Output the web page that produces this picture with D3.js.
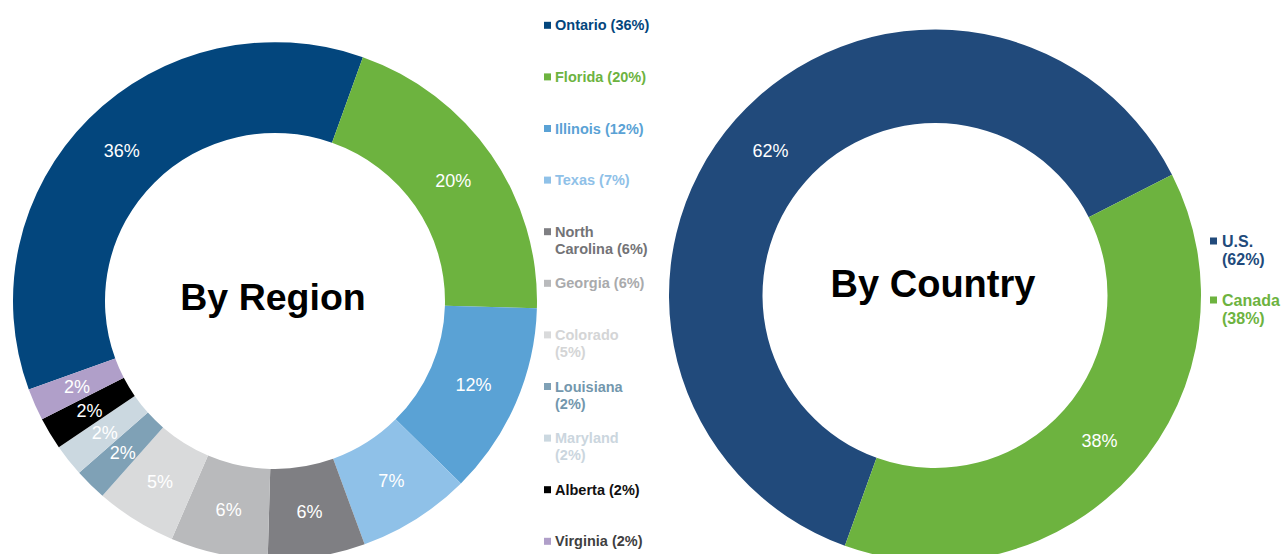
<!DOCTYPE html>
<html>
<head>
<meta charset="utf-8">
<script src="https://cdn.jsdelivr.net/npm/d3@7"></script>
<style>
  html, body { margin: 0; padding: 0; background: #ffffff; }
  svg { display: block; }
  text { font-family: "Liberation Sans", Arial, Helvetica, sans-serif; }
</style>
</head>
<body>
<svg id="chart" width="1286" height="554"></svg>
<script>
// ---- Data ----
const regions = ["Ontario", "Florida", "Illinois", "Texas", "North Carolina", "Georgia",
                 "Colorado", "Louisiana", "Maryland", "Alberta", "Virginia"];
const regionValues = [36, 20, 12, 7, 6, 6, 5, 2, 2, 2, 2];
const regionColors = ["#03467d", "#6db33f", "#5aa2d5", "#8fc1e8", "#7f7f83", "#b9babc",
                      "#d9dadb", "#7fa1b6", "#cbd8e0", "#000000", "#b09fc9"];
const regionTextColors = ["#03467d", "#6db33f", "#5aa2d5", "#8fc1e8", "#737376", "#a9aaac",
                          "#d4d5d6", "#7397ad", "#cbd6de", "#111111", "#3f3f3f"];
const regionLegendLines = [
  ["Ontario (36%)"], ["Florida (20%)"], ["Illinois (12%)"], ["Texas (7%)"],
  ["North", "Carolina (6%)"], ["Georgia (6%)"], ["Colorado", "(5%)"],
  ["Louisiana", "(2%)"], ["Maryland", "(2%)"], ["Alberta (2%)"], ["Virginia (2%)"]
];

const countries = ["U.S.", "Canada"];
const countryValues = [62, 38];
const countryColors = ["#214a7b", "#6db33f"];
const countryTextColors = ["#214a7b", "#6db33f"];
const countryLegendLines = [["U.S.", "(62%)"], ["Canada", "(38%)"]];

const regionTitle = "By Region";
const countryTitle = "By Country";

// ---- Drawing ----
const svg = d3.select("#chart");
svg.append("rect").attr("width", 1286).attr("height", 554).attr("fill", "#ffffff");

function donut(opts) {
  const g = svg.append("g").attr("transform", `translate(${opts.cx},${opts.cy})`);
  const start = opts.startDeg * Math.PI / 180;
  const pie = d3.pie().sort(null).value(d => d).startAngle(start).endAngle(start + 2 * Math.PI);
  const arcs = pie(opts.values);
  const arc = d3.arc().innerRadius(opts.r0).outerRadius(opts.r1);
  const color = d3.scaleOrdinal().domain(opts.names).range(opts.colors);
  const tcolor = d3.scaleOrdinal().domain(opts.names).range(opts.textColors);

  g.append("g").attr("transform", `scale(1,${opts.sy})`)
    .selectAll("path.slice").data(arcs).enter().append("path")
    .attr("class", "slice")
    .attr("d", arc)
    .attr("fill", (d, i) => color(opts.names[i]));

  g.selectAll("text.lbl").data(arcs).enter().append("text")
    .attr("class", "lbl")
    .attr("transform", d => { const c = arc.centroid(d); return `translate(${c[0]},${c[1] * opts.sy})`; })
    .attr("text-anchor", "middle")
    .attr("dy", "0.35em")
    .attr("fill", "#ffffff")
    .attr("font-size", opts.labelSize)
    .text(d => d.value + "%");

  g.append("text")
    .attr("x", opts.titleDx).attr("y", opts.titleDy)
    .attr("text-anchor", "middle")
    .attr("font-weight", "bold")
    .attr("font-size", opts.titleSize)
    .attr("fill", "#000000")
    .text(opts.title);

  // legend
  const lg = svg.append("g");
  opts.legend.forEach((lines, i) => {
    const y = opts.legY0 + i * opts.legStep;
    lg.append("rect")
      .attr("x", opts.legX).attr("y", y - opts.sq / 2)
      .attr("width", opts.sq).attr("height", opts.sq)
      .attr("fill", color(opts.names[i]));
    const t = lg.append("text")
      .attr("x", opts.legX + opts.textGap)
      .attr("y", y)
      .attr("font-weight", "bold")
      .attr("font-size", opts.legSize)
      .attr("fill", tcolor(opts.names[i]));
    lines.forEach((ln, j) => {
      t.append("tspan")
        .attr("x", opts.legX + opts.textGap)
        .attr("dy", j === 0 ? "0.35em" : opts.lineH)
        .text(ln);
    });
  });
}

donut({
  cx: 275, cy: 301, r0: 170, r1: 262, sy: 0.988, startDeg: -110,
  names: regions, values: regionValues, colors: regionColors, textColors: regionTextColors,
  labelSize: 18, title: regionTitle, titleSize: 37.5, titleDx: -2, titleDy: 9,
  legend: regionLegendLines, legX: 544, legY0: 25.3, legStep: 51.6, sq: 7,
  textGap: 11, legSize: 14.5, lineH: 17.3
});

donut({
  cx: 935, cy: 295.5, r0: 172.5, r1: 266, sy: 1, startDeg: -160.2,
  names: countries, values: countryValues, colors: countryColors, textColors: countryTextColors,
  labelSize: 18, title: countryTitle, titleSize: 38, titleDx: -2, titleDy: 1,
  legend: countryLegendLines, legX: 1210, legY0: 241, legStep: 59, sq: 7,
  textGap: 12, legSize: 16, lineH: 18.5
});
</script>
</body>
</html>
